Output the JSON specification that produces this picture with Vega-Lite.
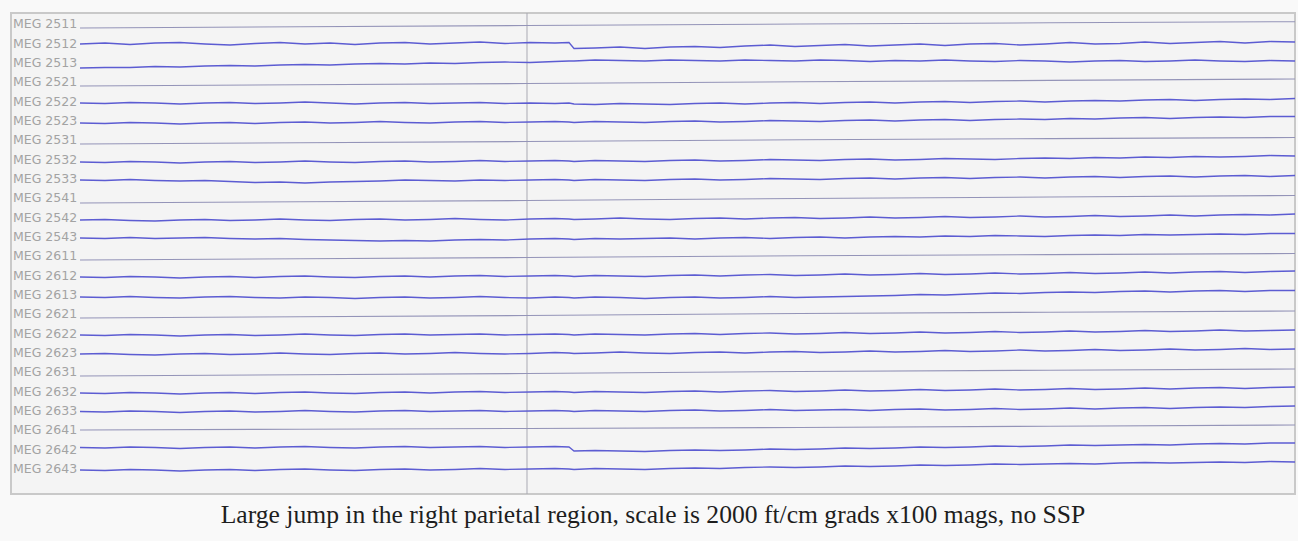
{
"$schema": "https://vega.github.io/schema/vega-lite/v6.json",
"width": 1284, "height": 481,
"autosize": {"type": "none"},
"padding": {"left": 11, "top": 13, "right": 3, "bottom": 47},
"background": "#f9f9f9",
"title": {"text": "Large jump in the right parietal region, scale is 2000 ft/cm grads x100 mags, no SSP", "orient": "bottom", "anchor": "middle", "offset": 28, "baseline": "alphabetic", "font": "Liberation Serif", "fontSize": 25.6, "fontWeight": "normal", "color": "#1e1e1e"},
"config": {"view": {"fill": "#f4f4f4", "stroke": "#c9c9c9", "strokeWidth": 2}},
"datasets": {
"labels": [{"c":"MEG 2511"},{"c":"MEG 2512"},{"c":"MEG 2513"},{"c":"MEG 2521"},{"c":"MEG 2522"},{"c":"MEG 2523"},{"c":"MEG 2531"},{"c":"MEG 2532"},{"c":"MEG 2533"},{"c":"MEG 2541"},{"c":"MEG 2542"},{"c":"MEG 2543"},{"c":"MEG 2611"},{"c":"MEG 2612"},{"c":"MEG 2613"},{"c":"MEG 2621"},{"c":"MEG 2622"},{"c":"MEG 2623"},{"c":"MEG 2631"},{"c":"MEG 2632"},{"c":"MEG 2633"},{"c":"MEG 2641"},{"c":"MEG 2642"},{"c":"MEG 2643"}],
"mags": [
{"ch":"2511","t":80,"v":28},{"ch":"2511","t":300,"v":26.8},{"ch":"2511","t":527,"v":25.5},{"ch":"2511","t":800,"v":24},{"ch":"2511","t":1050,"v":22.8},{"ch":"2511","t":1295,"v":21.7},
{"ch":"2521","t":80,"v":86},{"ch":"2521","t":300,"v":84.8},{"ch":"2521","t":527,"v":83.5},{"ch":"2521","t":800,"v":81.8},{"ch":"2521","t":1050,"v":80.4},{"ch":"2521","t":1295,"v":79},
{"ch":"2531","t":80,"v":144},{"ch":"2531","t":300,"v":142.8},{"ch":"2531","t":527,"v":141.5},{"ch":"2531","t":800,"v":139.8},{"ch":"2531","t":1050,"v":138.6},{"ch":"2531","t":1295,"v":137.5},
{"ch":"2541","t":80,"v":203},{"ch":"2541","t":300,"v":201.8},{"ch":"2541","t":527,"v":200.5},{"ch":"2541","t":800,"v":198.5},{"ch":"2541","t":1050,"v":197},{"ch":"2541","t":1295,"v":195.5},
{"ch":"2611","t":80,"v":260},{"ch":"2611","t":300,"v":258.8},{"ch":"2611","t":527,"v":257.5},{"ch":"2611","t":800,"v":255.8},{"ch":"2611","t":1050,"v":254.6},{"ch":"2611","t":1295,"v":253.5},
{"ch":"2621","t":80,"v":318},{"ch":"2621","t":300,"v":316.8},{"ch":"2621","t":527,"v":315.5},{"ch":"2621","t":800,"v":313.5},{"ch":"2621","t":1050,"v":312.2},{"ch":"2621","t":1295,"v":311},
{"ch":"2631","t":80,"v":376},{"ch":"2631","t":300,"v":374.8},{"ch":"2631","t":527,"v":373.5},{"ch":"2631","t":800,"v":371.5},{"ch":"2631","t":1050,"v":370.2},{"ch":"2631","t":1295,"v":369},
{"ch":"2641","t":80,"v":430},{"ch":"2641","t":300,"v":429.2},{"ch":"2641","t":527,"v":428.5},{"ch":"2641","t":800,"v":427.5},{"ch":"2641","t":1050,"v":426.2},{"ch":"2641","t":1295,"v":425}
],
"grads": [
{"ch":"2512","t":80,"v":44},{"ch":"2512","t":105,"v":43},{"ch":"2512","t":130,"v":44.5},{"ch":"2512","t":155,"v":43},{"ch":"2512","t":180,"v":42.5},{"ch":"2512","t":205,"v":44},{"ch":"2512","t":230,"v":45},{"ch":"2512","t":255,"v":43.5},{"ch":"2512","t":280,"v":42.5},{"ch":"2512","t":305,"v":44},{"ch":"2512","t":330,"v":43},{"ch":"2512","t":355,"v":44.5},{"ch":"2512","t":380,"v":43},{"ch":"2512","t":405,"v":42.5},{"ch":"2512","t":430,"v":44},{"ch":"2512","t":455,"v":43},{"ch":"2512","t":480,"v":42},{"ch":"2512","t":505,"v":43.5},{"ch":"2512","t":530,"v":42.5},{"ch":"2512","t":555,"v":43},{"ch":"2512","t":569,"v":42.5},{"ch":"2512","t":574,"v":48.5},{"ch":"2512","t":595,"v":48},{"ch":"2512","t":620,"v":47},{"ch":"2512","t":645,"v":48.5},{"ch":"2512","t":670,"v":47},{"ch":"2512","t":695,"v":46.5},{"ch":"2512","t":720,"v":47.5},{"ch":"2512","t":745,"v":46},{"ch":"2512","t":770,"v":45},{"ch":"2512","t":795,"v":46.5},{"ch":"2512","t":820,"v":45.5},{"ch":"2512","t":845,"v":44.5},{"ch":"2512","t":870,"v":46},{"ch":"2512","t":895,"v":45},{"ch":"2512","t":920,"v":44},{"ch":"2512","t":945,"v":45.5},{"ch":"2512","t":970,"v":44},{"ch":"2512","t":995,"v":43.5},{"ch":"2512","t":1020,"v":45},{"ch":"2512","t":1045,"v":44},{"ch":"2512","t":1070,"v":42.5},{"ch":"2512","t":1095,"v":44},{"ch":"2512","t":1120,"v":43.5},{"ch":"2512","t":1145,"v":42},{"ch":"2512","t":1170,"v":43.5},{"ch":"2512","t":1195,"v":42.5},{"ch":"2512","t":1220,"v":41.5},{"ch":"2512","t":1245,"v":43},{"ch":"2512","t":1270,"v":41.5},{"ch":"2512","t":1295,"v":42},
{"ch":"2513","t":80,"v":68},{"ch":"2513","t":105,"v":67.5},{"ch":"2513","t":130,"v":67.5},{"ch":"2513","t":155,"v":66.5},{"ch":"2513","t":180,"v":67},{"ch":"2513","t":205,"v":66},{"ch":"2513","t":230,"v":65.5},{"ch":"2513","t":255,"v":66},{"ch":"2513","t":280,"v":65},{"ch":"2513","t":305,"v":64.5},{"ch":"2513","t":330,"v":65},{"ch":"2513","t":355,"v":64},{"ch":"2513","t":380,"v":63.5},{"ch":"2513","t":405,"v":64},{"ch":"2513","t":430,"v":63},{"ch":"2513","t":455,"v":63.5},{"ch":"2513","t":480,"v":62.5},{"ch":"2513","t":505,"v":62},{"ch":"2513","t":530,"v":62.5},{"ch":"2513","t":555,"v":61.5},{"ch":"2513","t":569,"v":61},{"ch":"2513","t":574,"v":61},{"ch":"2513","t":595,"v":60},{"ch":"2513","t":620,"v":60.5},{"ch":"2513","t":645,"v":61},{"ch":"2513","t":670,"v":60},{"ch":"2513","t":695,"v":60.5},{"ch":"2513","t":720,"v":61},{"ch":"2513","t":745,"v":60},{"ch":"2513","t":770,"v":60.5},{"ch":"2513","t":795,"v":61},{"ch":"2513","t":820,"v":60},{"ch":"2513","t":845,"v":60.5},{"ch":"2513","t":870,"v":61.5},{"ch":"2513","t":895,"v":60.5},{"ch":"2513","t":920,"v":61},{"ch":"2513","t":945,"v":60},{"ch":"2513","t":970,"v":61},{"ch":"2513","t":995,"v":61.5},{"ch":"2513","t":1020,"v":60.5},{"ch":"2513","t":1045,"v":61},{"ch":"2513","t":1070,"v":62},{"ch":"2513","t":1095,"v":61},{"ch":"2513","t":1120,"v":60.5},{"ch":"2513","t":1145,"v":61.5},{"ch":"2513","t":1170,"v":61},{"ch":"2513","t":1195,"v":60},{"ch":"2513","t":1220,"v":61},{"ch":"2513","t":1245,"v":61.5},{"ch":"2513","t":1270,"v":60.5},{"ch":"2513","t":1295,"v":61},
{"ch":"2522","t":80,"v":103},{"ch":"2522","t":105,"v":103.5},{"ch":"2522","t":130,"v":102.5},{"ch":"2522","t":155,"v":103},{"ch":"2522","t":180,"v":104},{"ch":"2522","t":205,"v":103},{"ch":"2522","t":230,"v":102.5},{"ch":"2522","t":255,"v":103.5},{"ch":"2522","t":280,"v":103},{"ch":"2522","t":305,"v":102},{"ch":"2522","t":330,"v":103},{"ch":"2522","t":355,"v":104},{"ch":"2522","t":380,"v":103},{"ch":"2522","t":405,"v":102.5},{"ch":"2522","t":430,"v":103.5},{"ch":"2522","t":455,"v":103},{"ch":"2522","t":480,"v":102.5},{"ch":"2522","t":505,"v":103.5},{"ch":"2522","t":530,"v":103},{"ch":"2522","t":555,"v":103.5},{"ch":"2522","t":569,"v":103},{"ch":"2522","t":574,"v":104},{"ch":"2522","t":595,"v":104.5},{"ch":"2522","t":620,"v":103.5},{"ch":"2522","t":645,"v":104},{"ch":"2522","t":670,"v":104.5},{"ch":"2522","t":695,"v":103.5},{"ch":"2522","t":720,"v":103},{"ch":"2522","t":745,"v":104},{"ch":"2522","t":770,"v":103},{"ch":"2522","t":795,"v":102.5},{"ch":"2522","t":820,"v":103.5},{"ch":"2522","t":845,"v":102.5},{"ch":"2522","t":870,"v":102},{"ch":"2522","t":895,"v":103},{"ch":"2522","t":920,"v":102},{"ch":"2522","t":945,"v":101.5},{"ch":"2522","t":970,"v":102.5},{"ch":"2522","t":995,"v":101.5},{"ch":"2522","t":1020,"v":101},{"ch":"2522","t":1045,"v":102},{"ch":"2522","t":1070,"v":101},{"ch":"2522","t":1095,"v":100.5},{"ch":"2522","t":1120,"v":101},{"ch":"2522","t":1145,"v":100},{"ch":"2522","t":1170,"v":99.5},{"ch":"2522","t":1195,"v":100.5},{"ch":"2522","t":1220,"v":99.5},{"ch":"2522","t":1245,"v":99},{"ch":"2522","t":1270,"v":99.5},{"ch":"2522","t":1295,"v":98.5},
{"ch":"2523","t":80,"v":123},{"ch":"2523","t":105,"v":123.5},{"ch":"2523","t":130,"v":122.5},{"ch":"2523","t":155,"v":123},{"ch":"2523","t":180,"v":124},{"ch":"2523","t":205,"v":123},{"ch":"2523","t":230,"v":122.5},{"ch":"2523","t":255,"v":123.5},{"ch":"2523","t":280,"v":122.5},{"ch":"2523","t":305,"v":122},{"ch":"2523","t":330,"v":123},{"ch":"2523","t":355,"v":122.5},{"ch":"2523","t":380,"v":121.5},{"ch":"2523","t":405,"v":122.5},{"ch":"2523","t":430,"v":123},{"ch":"2523","t":455,"v":122},{"ch":"2523","t":480,"v":121.5},{"ch":"2523","t":505,"v":122.5},{"ch":"2523","t":530,"v":122},{"ch":"2523","t":555,"v":121.5},{"ch":"2523","t":569,"v":122},{"ch":"2523","t":574,"v":122.5},{"ch":"2523","t":595,"v":121.5},{"ch":"2523","t":620,"v":122},{"ch":"2523","t":645,"v":122.5},{"ch":"2523","t":670,"v":121.5},{"ch":"2523","t":695,"v":121},{"ch":"2523","t":720,"v":122},{"ch":"2523","t":745,"v":121.5},{"ch":"2523","t":770,"v":120.5},{"ch":"2523","t":795,"v":121},{"ch":"2523","t":820,"v":121.5},{"ch":"2523","t":845,"v":120.5},{"ch":"2523","t":870,"v":120},{"ch":"2523","t":895,"v":121},{"ch":"2523","t":920,"v":120},{"ch":"2523","t":945,"v":119.5},{"ch":"2523","t":970,"v":120.5},{"ch":"2523","t":995,"v":119.5},{"ch":"2523","t":1020,"v":119},{"ch":"2523","t":1045,"v":119.5},{"ch":"2523","t":1070,"v":118.5},{"ch":"2523","t":1095,"v":119},{"ch":"2523","t":1120,"v":118},{"ch":"2523","t":1145,"v":117.5},{"ch":"2523","t":1170,"v":118.5},{"ch":"2523","t":1195,"v":117.5},{"ch":"2523","t":1220,"v":117},{"ch":"2523","t":1245,"v":117.5},{"ch":"2523","t":1270,"v":116.5},{"ch":"2523","t":1295,"v":116.5},
{"ch":"2532","t":80,"v":162},{"ch":"2532","t":105,"v":162.5},{"ch":"2532","t":130,"v":161.5},{"ch":"2532","t":155,"v":162},{"ch":"2532","t":180,"v":163},{"ch":"2532","t":205,"v":162},{"ch":"2532","t":230,"v":161.5},{"ch":"2532","t":255,"v":162.5},{"ch":"2532","t":280,"v":162},{"ch":"2532","t":305,"v":161},{"ch":"2532","t":330,"v":162},{"ch":"2532","t":355,"v":162.5},{"ch":"2532","t":380,"v":161.5},{"ch":"2532","t":405,"v":161},{"ch":"2532","t":430,"v":162},{"ch":"2532","t":455,"v":161.5},{"ch":"2532","t":480,"v":160.5},{"ch":"2532","t":505,"v":161.5},{"ch":"2532","t":530,"v":161},{"ch":"2532","t":555,"v":160.5},{"ch":"2532","t":569,"v":161},{"ch":"2532","t":574,"v":161.5},{"ch":"2532","t":595,"v":160.5},{"ch":"2532","t":620,"v":161},{"ch":"2532","t":645,"v":161.5},{"ch":"2532","t":670,"v":160.5},{"ch":"2532","t":695,"v":160},{"ch":"2532","t":720,"v":161},{"ch":"2532","t":745,"v":160.5},{"ch":"2532","t":770,"v":159.5},{"ch":"2532","t":795,"v":160},{"ch":"2532","t":820,"v":160.5},{"ch":"2532","t":845,"v":159.5},{"ch":"2532","t":870,"v":159},{"ch":"2532","t":895,"v":160},{"ch":"2532","t":920,"v":159.5},{"ch":"2532","t":945,"v":158.5},{"ch":"2532","t":970,"v":159},{"ch":"2532","t":995,"v":159.5},{"ch":"2532","t":1020,"v":158.5},{"ch":"2532","t":1045,"v":158},{"ch":"2532","t":1070,"v":158.5},{"ch":"2532","t":1095,"v":157.5},{"ch":"2532","t":1120,"v":158},{"ch":"2532","t":1145,"v":157},{"ch":"2532","t":1170,"v":157.5},{"ch":"2532","t":1195,"v":156.5},{"ch":"2532","t":1220,"v":157},{"ch":"2532","t":1245,"v":156.5},{"ch":"2532","t":1270,"v":155.5},{"ch":"2532","t":1295,"v":156},
{"ch":"2533","t":80,"v":180},{"ch":"2533","t":105,"v":180.5},{"ch":"2533","t":130,"v":179.5},{"ch":"2533","t":155,"v":180.5},{"ch":"2533","t":180,"v":181},{"ch":"2533","t":205,"v":180.5},{"ch":"2533","t":230,"v":181.5},{"ch":"2533","t":255,"v":182.5},{"ch":"2533","t":280,"v":182},{"ch":"2533","t":305,"v":183},{"ch":"2533","t":330,"v":182},{"ch":"2533","t":355,"v":181.5},{"ch":"2533","t":380,"v":181},{"ch":"2533","t":405,"v":180},{"ch":"2533","t":430,"v":180.5},{"ch":"2533","t":455,"v":181},{"ch":"2533","t":480,"v":180},{"ch":"2533","t":505,"v":180.5},{"ch":"2533","t":530,"v":180},{"ch":"2533","t":555,"v":179.5},{"ch":"2533","t":569,"v":180},{"ch":"2533","t":574,"v":180.5},{"ch":"2533","t":595,"v":179.5},{"ch":"2533","t":620,"v":180},{"ch":"2533","t":645,"v":180.5},{"ch":"2533","t":670,"v":179.5},{"ch":"2533","t":695,"v":179},{"ch":"2533","t":720,"v":180},{"ch":"2533","t":745,"v":179.5},{"ch":"2533","t":770,"v":178.5},{"ch":"2533","t":795,"v":179},{"ch":"2533","t":820,"v":179.5},{"ch":"2533","t":845,"v":178.5},{"ch":"2533","t":870,"v":178},{"ch":"2533","t":895,"v":179},{"ch":"2533","t":920,"v":178},{"ch":"2533","t":945,"v":177.5},{"ch":"2533","t":970,"v":178.5},{"ch":"2533","t":995,"v":177.5},{"ch":"2533","t":1020,"v":177},{"ch":"2533","t":1045,"v":178},{"ch":"2533","t":1070,"v":177},{"ch":"2533","t":1095,"v":176.5},{"ch":"2533","t":1120,"v":177.5},{"ch":"2533","t":1145,"v":176.5},{"ch":"2533","t":1170,"v":176},{"ch":"2533","t":1195,"v":177},{"ch":"2533","t":1220,"v":176},{"ch":"2533","t":1245,"v":175.5},{"ch":"2533","t":1270,"v":176.5},{"ch":"2533","t":1295,"v":175.5},
{"ch":"2542","t":80,"v":220},{"ch":"2542","t":105,"v":219.5},{"ch":"2542","t":130,"v":220.5},{"ch":"2542","t":155,"v":221},{"ch":"2542","t":180,"v":220},{"ch":"2542","t":205,"v":219.5},{"ch":"2542","t":230,"v":220.5},{"ch":"2542","t":255,"v":220},{"ch":"2542","t":280,"v":219},{"ch":"2542","t":305,"v":220},{"ch":"2542","t":330,"v":220.5},{"ch":"2542","t":355,"v":219.5},{"ch":"2542","t":380,"v":219},{"ch":"2542","t":405,"v":220},{"ch":"2542","t":430,"v":219.5},{"ch":"2542","t":455,"v":218.5},{"ch":"2542","t":480,"v":219.5},{"ch":"2542","t":505,"v":220},{"ch":"2542","t":530,"v":219},{"ch":"2542","t":555,"v":218.5},{"ch":"2542","t":569,"v":219},{"ch":"2542","t":574,"v":219.5},{"ch":"2542","t":595,"v":219},{"ch":"2542","t":620,"v":218},{"ch":"2542","t":645,"v":219},{"ch":"2542","t":670,"v":219.5},{"ch":"2542","t":695,"v":218.5},{"ch":"2542","t":720,"v":218},{"ch":"2542","t":745,"v":219},{"ch":"2542","t":770,"v":218},{"ch":"2542","t":795,"v":217.5},{"ch":"2542","t":820,"v":218.5},{"ch":"2542","t":845,"v":218},{"ch":"2542","t":870,"v":217},{"ch":"2542","t":895,"v":218},{"ch":"2542","t":920,"v":217.5},{"ch":"2542","t":945,"v":216.5},{"ch":"2542","t":970,"v":217.5},{"ch":"2542","t":995,"v":217},{"ch":"2542","t":1020,"v":216},{"ch":"2542","t":1045,"v":217},{"ch":"2542","t":1070,"v":216.5},{"ch":"2542","t":1095,"v":215.5},{"ch":"2542","t":1120,"v":216.5},{"ch":"2542","t":1145,"v":216},{"ch":"2542","t":1170,"v":215},{"ch":"2542","t":1195,"v":216},{"ch":"2542","t":1220,"v":215},{"ch":"2542","t":1245,"v":214.5},{"ch":"2542","t":1270,"v":215},{"ch":"2542","t":1295,"v":214},
{"ch":"2543","t":80,"v":238},{"ch":"2543","t":105,"v":238.5},{"ch":"2543","t":130,"v":237.5},{"ch":"2543","t":155,"v":238.5},{"ch":"2543","t":180,"v":238},{"ch":"2543","t":205,"v":237.5},{"ch":"2543","t":230,"v":238.5},{"ch":"2543","t":255,"v":239},{"ch":"2543","t":280,"v":238.5},{"ch":"2543","t":305,"v":239.5},{"ch":"2543","t":330,"v":240},{"ch":"2543","t":355,"v":240.5},{"ch":"2543","t":380,"v":241},{"ch":"2543","t":405,"v":240.5},{"ch":"2543","t":430,"v":241},{"ch":"2543","t":455,"v":240},{"ch":"2543","t":480,"v":239.5},{"ch":"2543","t":505,"v":240},{"ch":"2543","t":530,"v":239},{"ch":"2543","t":555,"v":238.5},{"ch":"2543","t":569,"v":239},{"ch":"2543","t":574,"v":239.5},{"ch":"2543","t":595,"v":238.5},{"ch":"2543","t":620,"v":239},{"ch":"2543","t":645,"v":238.5},{"ch":"2543","t":670,"v":238},{"ch":"2543","t":695,"v":239},{"ch":"2543","t":720,"v":238},{"ch":"2543","t":745,"v":237.5},{"ch":"2543","t":770,"v":238.5},{"ch":"2543","t":795,"v":237.5},{"ch":"2543","t":820,"v":237},{"ch":"2543","t":845,"v":238},{"ch":"2543","t":870,"v":237},{"ch":"2543","t":895,"v":236.5},{"ch":"2543","t":920,"v":237},{"ch":"2543","t":945,"v":236},{"ch":"2543","t":970,"v":236.5},{"ch":"2543","t":995,"v":235.5},{"ch":"2543","t":1020,"v":236},{"ch":"2543","t":1045,"v":236.5},{"ch":"2543","t":1070,"v":235.5},{"ch":"2543","t":1095,"v":235},{"ch":"2543","t":1120,"v":235.5},{"ch":"2543","t":1145,"v":234.5},{"ch":"2543","t":1170,"v":235},{"ch":"2543","t":1195,"v":234.5},{"ch":"2543","t":1220,"v":234},{"ch":"2543","t":1245,"v":234.5},{"ch":"2543","t":1270,"v":233.5},{"ch":"2543","t":1295,"v":233.5},
{"ch":"2612","t":80,"v":277},{"ch":"2612","t":105,"v":277.5},{"ch":"2612","t":130,"v":276.5},{"ch":"2612","t":155,"v":277},{"ch":"2612","t":180,"v":278},{"ch":"2612","t":205,"v":277},{"ch":"2612","t":230,"v":276.5},{"ch":"2612","t":255,"v":277.5},{"ch":"2612","t":280,"v":276.5},{"ch":"2612","t":305,"v":276},{"ch":"2612","t":330,"v":277},{"ch":"2612","t":355,"v":277.5},{"ch":"2612","t":380,"v":276.5},{"ch":"2612","t":405,"v":276},{"ch":"2612","t":430,"v":277},{"ch":"2612","t":455,"v":276},{"ch":"2612","t":480,"v":275.5},{"ch":"2612","t":505,"v":276.5},{"ch":"2612","t":530,"v":276},{"ch":"2612","t":555,"v":275.5},{"ch":"2612","t":569,"v":276},{"ch":"2612","t":574,"v":276.5},{"ch":"2612","t":595,"v":275.5},{"ch":"2612","t":620,"v":276},{"ch":"2612","t":645,"v":276.5},{"ch":"2612","t":670,"v":275.5},{"ch":"2612","t":695,"v":275},{"ch":"2612","t":720,"v":276},{"ch":"2612","t":745,"v":275},{"ch":"2612","t":770,"v":274.5},{"ch":"2612","t":795,"v":275.5},{"ch":"2612","t":820,"v":275},{"ch":"2612","t":845,"v":274},{"ch":"2612","t":870,"v":275},{"ch":"2612","t":895,"v":274.5},{"ch":"2612","t":920,"v":273.5},{"ch":"2612","t":945,"v":274.5},{"ch":"2612","t":970,"v":274},{"ch":"2612","t":995,"v":273},{"ch":"2612","t":1020,"v":274},{"ch":"2612","t":1045,"v":273.5},{"ch":"2612","t":1070,"v":272.5},{"ch":"2612","t":1095,"v":273.5},{"ch":"2612","t":1120,"v":273},{"ch":"2612","t":1145,"v":272},{"ch":"2612","t":1170,"v":273},{"ch":"2612","t":1195,"v":272},{"ch":"2612","t":1220,"v":271.5},{"ch":"2612","t":1245,"v":272.5},{"ch":"2612","t":1270,"v":271.5},{"ch":"2612","t":1295,"v":271},
{"ch":"2613","t":80,"v":297},{"ch":"2613","t":105,"v":297.5},{"ch":"2613","t":130,"v":296.5},{"ch":"2613","t":155,"v":297.5},{"ch":"2613","t":180,"v":298},{"ch":"2613","t":205,"v":297},{"ch":"2613","t":230,"v":296.5},{"ch":"2613","t":255,"v":297.5},{"ch":"2613","t":280,"v":298},{"ch":"2613","t":305,"v":297},{"ch":"2613","t":330,"v":297.5},{"ch":"2613","t":355,"v":298.5},{"ch":"2613","t":380,"v":297.5},{"ch":"2613","t":405,"v":297},{"ch":"2613","t":430,"v":298},{"ch":"2613","t":455,"v":297.5},{"ch":"2613","t":480,"v":296.5},{"ch":"2613","t":505,"v":297.5},{"ch":"2613","t":530,"v":298},{"ch":"2613","t":555,"v":297},{"ch":"2613","t":569,"v":297.5},{"ch":"2613","t":574,"v":298},{"ch":"2613","t":595,"v":297},{"ch":"2613","t":620,"v":297.5},{"ch":"2613","t":645,"v":298.5},{"ch":"2613","t":670,"v":297.5},{"ch":"2613","t":695,"v":297},{"ch":"2613","t":720,"v":298},{"ch":"2613","t":745,"v":297.5},{"ch":"2613","t":770,"v":296.5},{"ch":"2613","t":795,"v":297.5},{"ch":"2613","t":820,"v":297},{"ch":"2613","t":845,"v":296.5},{"ch":"2613","t":870,"v":296},{"ch":"2613","t":895,"v":295.5},{"ch":"2613","t":920,"v":294.5},{"ch":"2613","t":945,"v":295},{"ch":"2613","t":970,"v":294},{"ch":"2613","t":995,"v":293},{"ch":"2613","t":1020,"v":293.5},{"ch":"2613","t":1045,"v":292.5},{"ch":"2613","t":1070,"v":292},{"ch":"2613","t":1095,"v":292.5},{"ch":"2613","t":1120,"v":291.5},{"ch":"2613","t":1145,"v":291},{"ch":"2613","t":1170,"v":292},{"ch":"2613","t":1195,"v":291},{"ch":"2613","t":1220,"v":290.5},{"ch":"2613","t":1245,"v":291.5},{"ch":"2613","t":1270,"v":290.5},{"ch":"2613","t":1295,"v":290.5},
{"ch":"2622","t":80,"v":335},{"ch":"2622","t":105,"v":335.5},{"ch":"2622","t":130,"v":334.5},{"ch":"2622","t":155,"v":335},{"ch":"2622","t":180,"v":336},{"ch":"2622","t":205,"v":335},{"ch":"2622","t":230,"v":334.5},{"ch":"2622","t":255,"v":335.5},{"ch":"2622","t":280,"v":335},{"ch":"2622","t":305,"v":334},{"ch":"2622","t":330,"v":335},{"ch":"2622","t":355,"v":335.5},{"ch":"2622","t":380,"v":334.5},{"ch":"2622","t":405,"v":334},{"ch":"2622","t":430,"v":335},{"ch":"2622","t":455,"v":334.5},{"ch":"2622","t":480,"v":334},{"ch":"2622","t":505,"v":335},{"ch":"2622","t":530,"v":334.5},{"ch":"2622","t":555,"v":334},{"ch":"2622","t":569,"v":334.5},{"ch":"2622","t":574,"v":335},{"ch":"2622","t":595,"v":334},{"ch":"2622","t":620,"v":334.5},{"ch":"2622","t":645,"v":335},{"ch":"2622","t":670,"v":334},{"ch":"2622","t":695,"v":333.5},{"ch":"2622","t":720,"v":334.5},{"ch":"2622","t":745,"v":333.5},{"ch":"2622","t":770,"v":333},{"ch":"2622","t":795,"v":334},{"ch":"2622","t":820,"v":333.5},{"ch":"2622","t":845,"v":332.5},{"ch":"2622","t":870,"v":333.5},{"ch":"2622","t":895,"v":333},{"ch":"2622","t":920,"v":332},{"ch":"2622","t":945,"v":333},{"ch":"2622","t":970,"v":332.5},{"ch":"2622","t":995,"v":331.5},{"ch":"2622","t":1020,"v":332.5},{"ch":"2622","t":1045,"v":332},{"ch":"2622","t":1070,"v":331},{"ch":"2622","t":1095,"v":332},{"ch":"2622","t":1120,"v":331.5},{"ch":"2622","t":1145,"v":330.5},{"ch":"2622","t":1170,"v":331.5},{"ch":"2622","t":1195,"v":331},{"ch":"2622","t":1220,"v":330},{"ch":"2622","t":1245,"v":331},{"ch":"2622","t":1270,"v":330.5},{"ch":"2622","t":1295,"v":330},
{"ch":"2623","t":80,"v":354},{"ch":"2623","t":105,"v":353.5},{"ch":"2623","t":130,"v":354.5},{"ch":"2623","t":155,"v":355},{"ch":"2623","t":180,"v":354},{"ch":"2623","t":205,"v":353.5},{"ch":"2623","t":230,"v":354.5},{"ch":"2623","t":255,"v":354},{"ch":"2623","t":280,"v":353},{"ch":"2623","t":305,"v":354},{"ch":"2623","t":330,"v":354.5},{"ch":"2623","t":355,"v":353.5},{"ch":"2623","t":380,"v":353},{"ch":"2623","t":405,"v":354},{"ch":"2623","t":430,"v":353.5},{"ch":"2623","t":455,"v":352.5},{"ch":"2623","t":480,"v":353.5},{"ch":"2623","t":505,"v":354},{"ch":"2623","t":530,"v":353.5},{"ch":"2623","t":555,"v":352.5},{"ch":"2623","t":569,"v":353},{"ch":"2623","t":574,"v":353.5},{"ch":"2623","t":595,"v":353},{"ch":"2623","t":620,"v":352},{"ch":"2623","t":645,"v":353},{"ch":"2623","t":670,"v":353.5},{"ch":"2623","t":695,"v":352.5},{"ch":"2623","t":720,"v":352},{"ch":"2623","t":745,"v":353},{"ch":"2623","t":770,"v":352},{"ch":"2623","t":795,"v":351.5},{"ch":"2623","t":820,"v":352.5},{"ch":"2623","t":845,"v":352},{"ch":"2623","t":870,"v":351},{"ch":"2623","t":895,"v":352},{"ch":"2623","t":920,"v":351.5},{"ch":"2623","t":945,"v":350.5},{"ch":"2623","t":970,"v":351.5},{"ch":"2623","t":995,"v":351},{"ch":"2623","t":1020,"v":350},{"ch":"2623","t":1045,"v":351},{"ch":"2623","t":1070,"v":350.5},{"ch":"2623","t":1095,"v":349.5},{"ch":"2623","t":1120,"v":350.5},{"ch":"2623","t":1145,"v":350},{"ch":"2623","t":1170,"v":349},{"ch":"2623","t":1195,"v":350},{"ch":"2623","t":1220,"v":349.5},{"ch":"2623","t":1245,"v":348.5},{"ch":"2623","t":1270,"v":349.5},{"ch":"2623","t":1295,"v":349},
{"ch":"2632","t":80,"v":393},{"ch":"2632","t":105,"v":393.5},{"ch":"2632","t":130,"v":392.5},{"ch":"2632","t":155,"v":393},{"ch":"2632","t":180,"v":394},{"ch":"2632","t":205,"v":393},{"ch":"2632","t":230,"v":392.5},{"ch":"2632","t":255,"v":393.5},{"ch":"2632","t":280,"v":392.5},{"ch":"2632","t":305,"v":392},{"ch":"2632","t":330,"v":393},{"ch":"2632","t":355,"v":393.5},{"ch":"2632","t":380,"v":392.5},{"ch":"2632","t":405,"v":392},{"ch":"2632","t":430,"v":393},{"ch":"2632","t":455,"v":392},{"ch":"2632","t":480,"v":391.5},{"ch":"2632","t":505,"v":392.5},{"ch":"2632","t":530,"v":392},{"ch":"2632","t":555,"v":391.5},{"ch":"2632","t":569,"v":392},{"ch":"2632","t":574,"v":392.5},{"ch":"2632","t":595,"v":391.5},{"ch":"2632","t":620,"v":392},{"ch":"2632","t":645,"v":392.5},{"ch":"2632","t":670,"v":391.5},{"ch":"2632","t":695,"v":391},{"ch":"2632","t":720,"v":392},{"ch":"2632","t":745,"v":391},{"ch":"2632","t":770,"v":390.5},{"ch":"2632","t":795,"v":391.5},{"ch":"2632","t":820,"v":391},{"ch":"2632","t":845,"v":390},{"ch":"2632","t":870,"v":391},{"ch":"2632","t":895,"v":390.5},{"ch":"2632","t":920,"v":389.5},{"ch":"2632","t":945,"v":390.5},{"ch":"2632","t":970,"v":390},{"ch":"2632","t":995,"v":389},{"ch":"2632","t":1020,"v":390},{"ch":"2632","t":1045,"v":389.5},{"ch":"2632","t":1070,"v":388.5},{"ch":"2632","t":1095,"v":389.5},{"ch":"2632","t":1120,"v":389},{"ch":"2632","t":1145,"v":388},{"ch":"2632","t":1170,"v":389},{"ch":"2632","t":1195,"v":388},{"ch":"2632","t":1220,"v":387.5},{"ch":"2632","t":1245,"v":388.5},{"ch":"2632","t":1270,"v":387.5},{"ch":"2632","t":1295,"v":387},
{"ch":"2633","t":80,"v":411.5},{"ch":"2633","t":105,"v":412},{"ch":"2633","t":130,"v":411},{"ch":"2633","t":155,"v":411.5},{"ch":"2633","t":180,"v":412.5},{"ch":"2633","t":205,"v":411.5},{"ch":"2633","t":230,"v":411},{"ch":"2633","t":255,"v":412},{"ch":"2633","t":280,"v":411.5},{"ch":"2633","t":305,"v":410.5},{"ch":"2633","t":330,"v":411.5},{"ch":"2633","t":355,"v":412},{"ch":"2633","t":380,"v":411},{"ch":"2633","t":405,"v":410.5},{"ch":"2633","t":430,"v":411.5},{"ch":"2633","t":455,"v":411},{"ch":"2633","t":480,"v":410.5},{"ch":"2633","t":505,"v":411.5},{"ch":"2633","t":530,"v":411},{"ch":"2633","t":555,"v":410.5},{"ch":"2633","t":569,"v":411},{"ch":"2633","t":574,"v":411.5},{"ch":"2633","t":595,"v":410.5},{"ch":"2633","t":620,"v":411},{"ch":"2633","t":645,"v":411.5},{"ch":"2633","t":670,"v":410.5},{"ch":"2633","t":695,"v":410},{"ch":"2633","t":720,"v":411},{"ch":"2633","t":745,"v":410.5},{"ch":"2633","t":770,"v":409.5},{"ch":"2633","t":795,"v":410.5},{"ch":"2633","t":820,"v":410},{"ch":"2633","t":845,"v":409.5},{"ch":"2633","t":870,"v":410.5},{"ch":"2633","t":895,"v":409.5},{"ch":"2633","t":920,"v":409},{"ch":"2633","t":945,"v":410},{"ch":"2633","t":970,"v":409.5},{"ch":"2633","t":995,"v":408.5},{"ch":"2633","t":1020,"v":409.5},{"ch":"2633","t":1045,"v":409},{"ch":"2633","t":1070,"v":408},{"ch":"2633","t":1095,"v":409},{"ch":"2633","t":1120,"v":408},{"ch":"2633","t":1145,"v":407.5},{"ch":"2633","t":1170,"v":408.5},{"ch":"2633","t":1195,"v":407.5},{"ch":"2633","t":1220,"v":407},{"ch":"2633","t":1245,"v":407.5},{"ch":"2633","t":1270,"v":406.5},{"ch":"2633","t":1295,"v":406},
{"ch":"2642","t":80,"v":447.5},{"ch":"2642","t":105,"v":448},{"ch":"2642","t":130,"v":447},{"ch":"2642","t":155,"v":447.5},{"ch":"2642","t":180,"v":448.5},{"ch":"2642","t":205,"v":447.5},{"ch":"2642","t":230,"v":447},{"ch":"2642","t":255,"v":448},{"ch":"2642","t":280,"v":447},{"ch":"2642","t":305,"v":446.5},{"ch":"2642","t":330,"v":447.5},{"ch":"2642","t":355,"v":448},{"ch":"2642","t":380,"v":447},{"ch":"2642","t":405,"v":446.5},{"ch":"2642","t":430,"v":447.5},{"ch":"2642","t":455,"v":447},{"ch":"2642","t":480,"v":446.5},{"ch":"2642","t":505,"v":447.5},{"ch":"2642","t":530,"v":447},{"ch":"2642","t":555,"v":446.5},{"ch":"2642","t":569,"v":447},{"ch":"2642","t":574,"v":451},{"ch":"2642","t":595,"v":450.5},{"ch":"2642","t":620,"v":451},{"ch":"2642","t":645,"v":451.5},{"ch":"2642","t":670,"v":450.5},{"ch":"2642","t":695,"v":450},{"ch":"2642","t":720,"v":450.5},{"ch":"2642","t":745,"v":450},{"ch":"2642","t":770,"v":449},{"ch":"2642","t":795,"v":449.5},{"ch":"2642","t":820,"v":449},{"ch":"2642","t":845,"v":448},{"ch":"2642","t":870,"v":448.5},{"ch":"2642","t":895,"v":448},{"ch":"2642","t":920,"v":447},{"ch":"2642","t":945,"v":447.5},{"ch":"2642","t":970,"v":447},{"ch":"2642","t":995,"v":446},{"ch":"2642","t":1020,"v":446.5},{"ch":"2642","t":1045,"v":446},{"ch":"2642","t":1070,"v":445},{"ch":"2642","t":1095,"v":445.5},{"ch":"2642","t":1120,"v":445},{"ch":"2642","t":1145,"v":444.5},{"ch":"2642","t":1170,"v":445},{"ch":"2642","t":1195,"v":444},{"ch":"2642","t":1220,"v":443.5},{"ch":"2642","t":1245,"v":444},{"ch":"2642","t":1270,"v":443},{"ch":"2642","t":1295,"v":443},
{"ch":"2643","t":80,"v":470},{"ch":"2643","t":105,"v":470.5},{"ch":"2643","t":130,"v":469.5},{"ch":"2643","t":155,"v":470},{"ch":"2643","t":180,"v":471},{"ch":"2643","t":205,"v":470},{"ch":"2643","t":230,"v":469.5},{"ch":"2643","t":255,"v":470.5},{"ch":"2643","t":280,"v":469.5},{"ch":"2643","t":305,"v":469},{"ch":"2643","t":330,"v":470},{"ch":"2643","t":355,"v":470.5},{"ch":"2643","t":380,"v":469.5},{"ch":"2643","t":405,"v":469},{"ch":"2643","t":430,"v":470},{"ch":"2643","t":455,"v":469.5},{"ch":"2643","t":480,"v":468.5},{"ch":"2643","t":505,"v":469.5},{"ch":"2643","t":530,"v":469},{"ch":"2643","t":555,"v":468.5},{"ch":"2643","t":569,"v":469},{"ch":"2643","t":574,"v":469.5},{"ch":"2643","t":595,"v":468.5},{"ch":"2643","t":620,"v":469},{"ch":"2643","t":645,"v":469.5},{"ch":"2643","t":670,"v":468.5},{"ch":"2643","t":695,"v":468},{"ch":"2643","t":720,"v":468.5},{"ch":"2643","t":745,"v":467.5},{"ch":"2643","t":770,"v":467},{"ch":"2643","t":795,"v":467.5},{"ch":"2643","t":820,"v":467},{"ch":"2643","t":845,"v":466},{"ch":"2643","t":870,"v":466.5},{"ch":"2643","t":895,"v":466},{"ch":"2643","t":920,"v":465},{"ch":"2643","t":945,"v":465.5},{"ch":"2643","t":970,"v":465},{"ch":"2643","t":995,"v":464},{"ch":"2643","t":1020,"v":464.5},{"ch":"2643","t":1045,"v":464},{"ch":"2643","t":1070,"v":463.5},{"ch":"2643","t":1095,"v":464},{"ch":"2643","t":1120,"v":463},{"ch":"2643","t":1145,"v":462.5},{"ch":"2643","t":1170,"v":463},{"ch":"2643","t":1195,"v":462.5},{"ch":"2643","t":1220,"v":462},{"ch":"2643","t":1245,"v":462.5},{"ch":"2643","t":1270,"v":461.5},{"ch":"2643","t":1295,"v":462}
]
},
"layer": [
{"data": {"values": [{}]}, "mark": {"type": "rule", "color": "#a9a9b3", "strokeWidth": 1}, "encoding": {"x": {"datum": 527, "type": "quantitative", "scale": {"domain": [11, 1295], "nice": false, "zero": false}, "axis": null}}},
{"data": {"name": "mags"}, "mark": {"type": "line", "color": "#9494b8", "strokeWidth": 1.1}, "encoding": {"x": {"field": "t", "type": "quantitative", "axis": null}, "y": {"field": "v", "type": "quantitative", "scale": {"domain": [13, 494], "reverse": true, "nice": false, "zero": false}, "axis": null}, "detail": {"field": "ch", "type": "nominal"}}},
{"data": {"name": "grads"}, "mark": {"type": "line", "color": "#5c5cd2", "strokeWidth": 1.3}, "encoding": {"x": {"field": "t", "type": "quantitative", "axis": null}, "y": {"field": "v", "type": "quantitative", "scale": {"domain": [13, 494], "reverse": true, "nice": false, "zero": false}, "axis": null}, "detail": {"field": "ch", "type": "nominal"}}},
{"data": {"name": "labels"}, "mark": {"type": "text", "align": "left", "baseline": "middle", "dx": 2, "font": "DejaVu Sans", "fontSize": 12.5, "color": "#a3a3a3"}, "encoding": {"x": {"datum": 11, "type": "quantitative"}, "y": {"field": "c", "type": "nominal", "sort": null, "scale": {"type": "point", "padding": 0.94, "align": 0.316}, "axis": null}, "text": {"field": "c", "type": "nominal"}}}
],
"resolve": {"scale": {"y": "independent"}}
}
